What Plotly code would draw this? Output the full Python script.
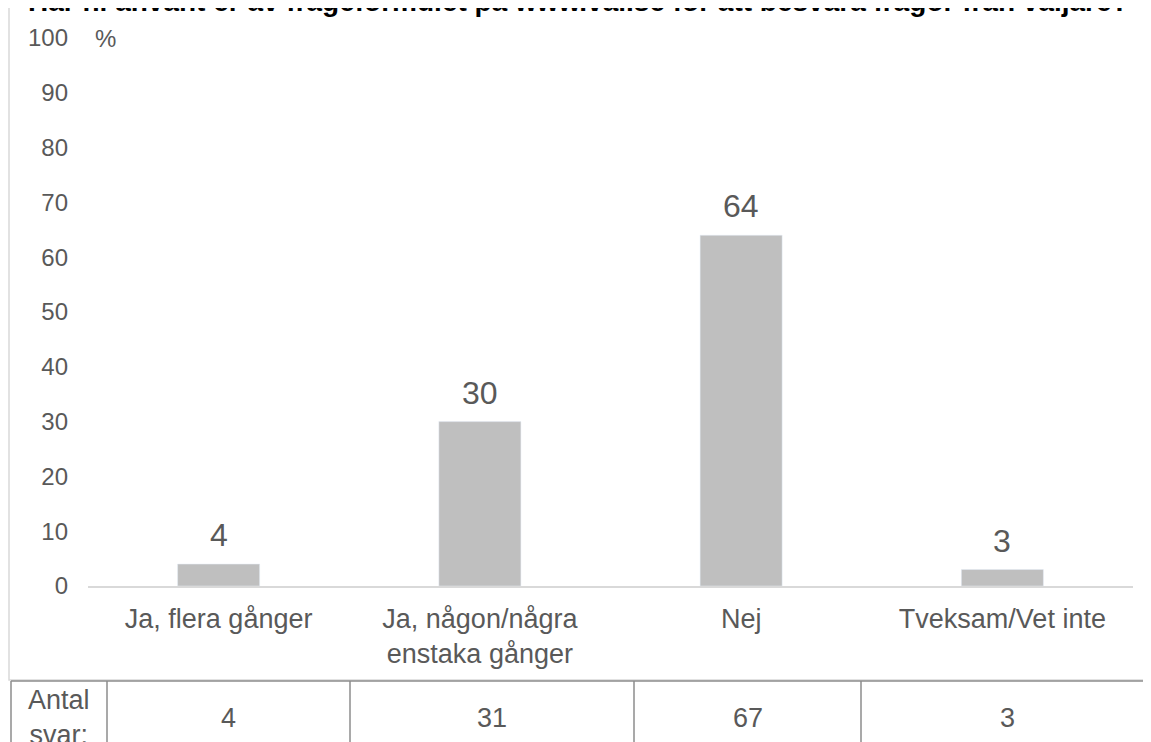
import plotly.graph_objects as go

# svar i procent och antal svar per alternativ
categories = ["Ja, flera gånger", "Ja, någon/några<br>enstaka gånger", "Nej", "Tveksam/Vet inte"]
percent = [4, 30, 64, 3]
antal = [4, 31, 67, 3]
y_ticks = [0, 10, 20, 30, 40, 50, 60, 70, 80, 90, 100]
title = "Har ni använt er av frågeformulet på www.val.se för att besvara frågor från väljare?"

FONT = "Liberation Sans, Arial, sans-serif"
GREY_TXT = "#595959"

# sidan har 8 px marginal i webbläsaren, så figuren görs 8 px mindre
OFF = 8
W, H = 1151 - OFF, 742 - OFF
# plotytans kanter i skärmkoordinater
L, R, T, B = 88, 1133, 38, 586


def xp(px):
    return (px - L) / (R - L)


def yp(py):
    return (B - py) / (B - T)


fig = go.Figure(go.Bar(
    x=categories, y=percent, marker_color="#bfbfbf", hoverinfo="skip",
))

# datalabels ovanför staplarna
for c, v in zip(categories, percent):
    fig.add_annotation(x=c, y=v, text=str(v), showarrow=False,
                       xanchor="center", yanchor="middle", yshift=29,
                       font=dict(size=32, color=GREY_TXT, family=FONT))

# ram runt diagrammet
fig.add_shape(type="rect", xref="paper", yref="paper",
              x0=xp(9), x1=xp(1165), y0=yp(680), y1=yp(7),
              line=dict(color="#d9d9d9", width=1.5), layer="below")

# tabell med antal svar
col_edges = [11, 107, 350, 634, 861, 1153]
fig.add_shape(type="line", xref="paper", yref="paper",
              x0=xp(11), x1=xp(1165), y0=yp(681), y1=yp(681),
              line=dict(color="#8c8c8c", width=1.5))
for e in col_edges[:-1]:
    fig.add_shape(type="line", xref="paper", yref="paper",
                  x0=xp(e), x1=xp(e), y0=yp(681), y1=yp(760),
                  line=dict(color="#8c8c8c", width=1.5))
fig.add_annotation(xref="paper", yref="paper", x=xp(59), y=yp(717.5),
                   text="Antal<br>svar:", showarrow=False,
                   xanchor="center", yanchor="middle",
                   font=dict(size=27, color=GREY_TXT, family=FONT))
for i, n in enumerate(antal):
    cx = (col_edges[i + 1] + col_edges[i + 2]) / 2
    fig.add_annotation(xref="paper", yref="paper", x=xp(cx), y=yp(717.5),
                       text=str(n), showarrow=False,
                       xanchor="center", yanchor="middle",
                       font=dict(size=27, color=GREY_TXT, family=FONT))

# procenttecken vid y-axeln
fig.add_annotation(xref="paper", yref="paper", x=xp(93), y=yp(39),
                   text="%", showarrow=False, xanchor="left", yanchor="middle",
                   font=dict(size=24, color=GREY_TXT, family=FONT))

# avklippt rubrik
fig.add_annotation(xref="paper", yref="paper", x=xp(578), y=yp(1),
                   text="<b>" + title + "</b>", showarrow=False,
                   xanchor="center", yanchor="middle",
                   font=dict(size=28, color="#000000", family=FONT))

fig.update_layout(
    width=W, height=H,
    margin=dict(l=L - OFF, r=W - (R - OFF), t=T - OFF, b=H - (B - OFF)),
    paper_bgcolor="white", plot_bgcolor="white",
    showlegend=False, bargap=0.686,
    font=dict(family=FONT, color=GREY_TXT),
)
fig.update_xaxes(showline=True, linecolor="#d9d9d9", linewidth=1.5,
                 showgrid=False, zeroline=False, ticks="",
                 tickfont=dict(size=27, color=GREY_TXT, family=FONT),
                 ticklabelstandoff=8)
fig.update_yaxes(range=[0, 100], tickvals=y_ticks, showgrid=False,
                 zeroline=False, showline=False, ticks="",
                 tickfont=dict(size=24, color=GREY_TXT, family=FONT),
                 ticklabelstandoff=19)

fig.write_html("out.html")
